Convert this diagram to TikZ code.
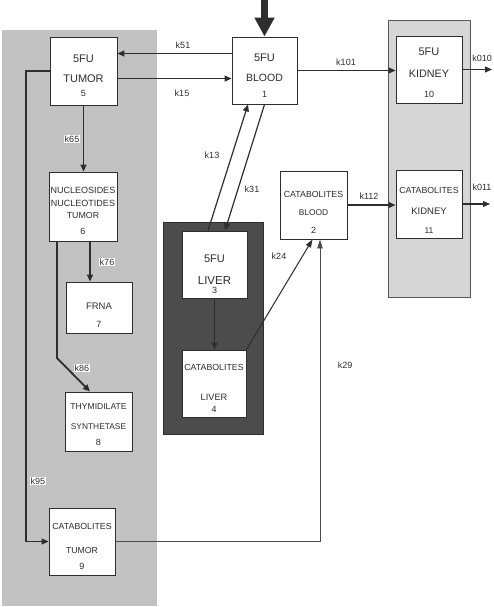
\documentclass[tikz,border=0pt]{standalone}
\usepackage{fontspec}
\setmainfont{Liberation Sans}
\usetikzlibrary{arrows.meta,calc}
\definecolor{tumorbg}{gray}{0.76}
\definecolor{kidbg}{gray}{0.84}
\definecolor{livbg}{gray}{0.3}
\definecolor{ink}{gray}{0.18}
\begin{document}
\begin{tikzpicture}[x=1pt,y=-1pt,
  box/.style={draw=ink,fill=white,line width=0.9pt,inner sep=0pt,minimum width=#1},
  bh/.style={minimum height=#1},
  arr/.style={draw=ink,line width=1.1pt,-{Triangle[length=7pt,width=6pt]}},
  kl/.style={font=\fontsize{9}{10}\selectfont,fill=white,inner sep=1pt,text=ink},
  tx/.style={anchor=base,inner sep=0pt,text=ink,font=\fontsize{#1}{#1}\selectfont},
]
\useasboundingbox (0,0) rectangle (494,607);
% background regions
\fill[tumorbg] (2,30) rectangle (157,606);
\filldraw[fill=kidbg,draw=ink!80,line width=0.9pt] (388,20) rectangle (470,297);
\filldraw[fill=livbg,draw=ink,line width=0.9pt] (163,222) rectangle (263,434);

% boxes
\node[box=67pt,bh=68pt] (b5) at (83.5,71) {};
\node[box=65pt,bh=67pt] (b1) at (264.5,70.5) {};
\node[box=66pt,bh=67pt] (b10) at (429,69.5) {};
\node[box=66pt,bh=68pt] (b11) at (429,204) {};
\node[box=67pt,bh=68pt] (b2) at (313.5,205) {};
\node[box=65pt,bh=67pt] (b3) at (214.5,264.5) {};
\node[box=64pt,bh=67pt] (b4) at (214,383.5) {};
\node[box=68pt,bh=69pt] (b6) at (83,206.5) {};
\node[box=66pt,bh=51pt] (b7) at (99,307.5) {};
\node[box=67pt,bh=59pt] (b8) at (98.5,421.5) {};
\node[box=66pt,bh=67pt] (b9) at (82,541.5) {};

% box texts
\node[tx=11] (t5a) at (83.5,63) {5FU};
\node[tx=11] (t5b) at (83.5,83) {TUMOR};
\node[tx=9] (t5c) at (83.5,96) {5};
\node[tx=11] (t1a) at (264.5,62) {5FU};
\node[tx=10.5] (t1b) at (264.5,82) {BLOOD};
\node[tx=9] (t1c) at (264.5,98) {1};
\node[tx=11] (t10a) at (429,56) {5FU};
\node[tx=10.8] (t10b) at (429,78) {KIDNEY};
\node[tx=9] (t10c) at (429,98) {10};
\node[tx=8.8] (t11a) at (429,193) {CATABOLITES};
\node[tx=9.5] (t11b) at (429,214) {KIDNEY};
\node[tx=8.5] (t11c) at (429,233) {11};
\node[tx=8.8] (t2a) at (313.5,197) {CATABOLITES};
\node[tx=8.4] (t2b) at (313.5,215) {BLOOD};
\node[tx=9] (t2c) at (313.5,233) {2};
\node[tx=11] (t3a) at (214.5,262) {5FU};
\node[tx=11.5] (t3b) at (214.5,284) {LIVER};
\node[tx=9] (t3c) at (214.5,293) {3};
\node[tx=8.8] (t4a) at (214,370) {CATABOLITES};
\node[tx=9.2] (t4b) at (214,400) {LIVER};
\node[tx=9] (t4c) at (214,412) {4};
\node[tx=9] (t6a) at (83,193) {NUCLEOSIDES};
\node[tx=9] (t6b) at (83,206) {NUCLEOTIDES};
\node[tx=8.8] (t6c) at (83,218) {TUMOR};
\node[tx=9] (t6d) at (83,234) {6};
\node[tx=9.5] (t7a) at (99,309) {FRNA};
\node[tx=9] (t7b) at (99,327) {7};
\node[tx=8.6] (t8a) at (98.5,409) {THYMIDILATE};
\node[tx=8.4] (t8b) at (98.5,429) {SYNTHETASE};
\node[tx=9] (t8c) at (98.5,445) {8};
\node[tx=8.8] (t9a) at (82,529) {CATABOLITES};
\node[tx=8.7] (t9b) at (82,553) {TUMOR};
\node[tx=9] (t9c) at (82,569) {9};

% helper coordinates
\coordinate (in) at (264.5,0);
\coordinate (o10) at (492,0);
\coordinate (o11) at (490,0);
\coordinate (k95a) at (26,71);
\coordinate (k86m) at (57,358);

% input arrow
\draw[draw=ink,line width=7.5pt,-{Triangle[length=19pt,width=19pt]}] (in) -- (b1.north);

% connectors
\draw[arr] ([yshift=-17pt]b1.north west) -- ([yshift=-17pt]b5.north east);
\draw[arr] ([yshift=-42pt]b5.north east) -- ([yshift=-42pt]b1.north west);
\draw[arr] (b1.east) -- (b1.east -| b10.west);
\draw[arr] (b10.east) -- (b10.east -| o10);
\draw[arr] (b2.east) -- (b2.east -| b11.west);
\draw[arr] (b11.east) -- (b11.east -| o11);
\draw[arr,line width=1.2pt] ([xshift=-6.5pt]b3.north) -- ([xshift=-16.5pt]b1.south);
\draw[arr,line width=1.2pt] (b1.south) -- ([xshift=10.5pt]b3.north);
\draw[arr,line width=0.8pt] (b3.south) -- (b3.south |- b4.north);
\draw[arr,line width=1pt,-{Triangle[length=8pt,width=5.5pt]}] (b4.north east) -- ([xshift=-1pt]b2.south);
\draw[arr,line width=0.8pt,draw=ink!85,-{Triangle[length=9pt,width=5.5pt]}] (b9.east) -| ([xshift=6.5pt]b2.south);
\draw[arr,line width=1.5pt] (b5.south) -- (b5.south |- b6.north);
\draw[arr,line width=1.5pt] ([xshift=7pt]b6.south) -- ([xshift=-9pt]b7.north);
\draw[arr,line width=1.8pt] ([xshift=-26pt]b6.south) -- (k86m) -- ([xshift=-8.5pt]b8.north);
\draw[arr] (b5.west) -- (k95a) -- (k95a |- b9.west) -- (b9.west);

% rate labels
\node[kl] (k51) at (183,45) {k51};
\node[kl] (k15) at (182,93) {k15};
\node[kl] (k65) at (72,139) {k65};
\node[kl] (k13) at (212,155) {k13};
\node[kl] (k31) at (252,189) {k31};
\node[kl] (k101) at (346,62) {k101};
\node[kl,fill=none] (k010) at (482,58) {k010};
\node[kl,fill=none] (k011) at (482,187) {k011};
\node[kl] (k112) at (369,196) {k112};
\node[kl] (k24) at (279,256) {k24};
\node[kl] (k29) at (345,365) {k29};
\node[kl] (k76) at (107,262) {k76};
\node[kl] (k86) at (82,368) {k86};
\node[kl] (k95) at (38,481) {k95};
\end{tikzpicture}
\end{document}
